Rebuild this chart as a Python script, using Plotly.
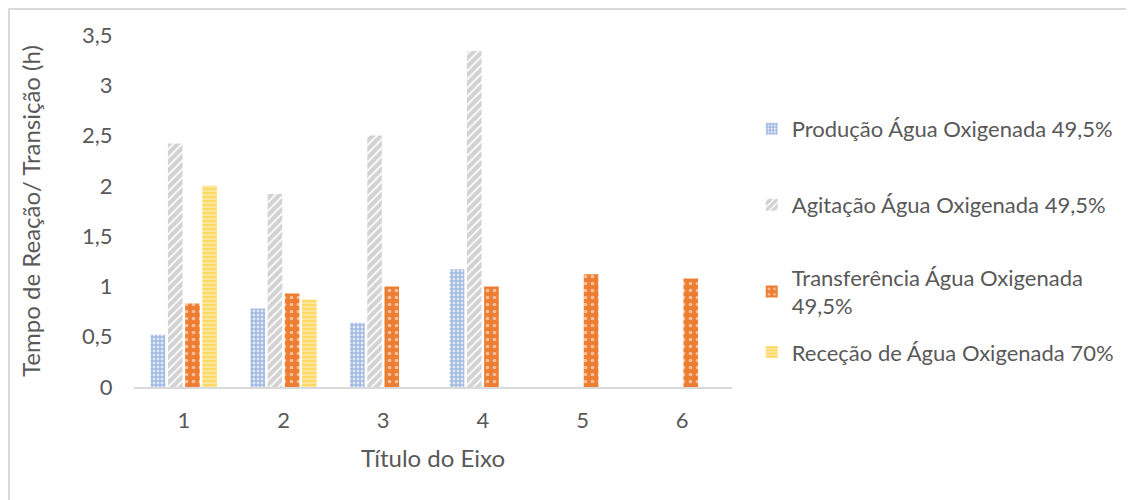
import plotly.graph_objects as go

# data
categorias = ["1", "2", "3", "4", "5", "6"]
producao = [0.52, 0.78, 0.64, 1.17, None, None]
agitacao = [2.42, 1.92, 2.50, 3.34, None, None]
transferencia = [0.83, 0.93, 1.00, 1.00, 1.12, 1.08]
rececao = [2.00, 0.87, None, None, None, None]

nomes = [
    "Produção Água Oxigenada 49,5%",
    "Agitação Água Oxigenada 49,5%",
    "Transferência Água Oxigenada<br>49,5%",
    "Receção de Água Oxigenada 70%",
]

TEXT = "#595959"
FONT = "Lato"

estilos = [
    dict(color="#4472C4", pattern=dict(shape=".", fgcolor="#4472C4", bgcolor="white",
                                       size=4, solidity=0.75)),
    dict(color="#A5A5A5", pattern=dict(shape="/", fgcolor="#A5A5A5", bgcolor="white",
                                       size=6, solidity=0.7)),
    dict(color="#ED7D31", pattern=dict(shape=".", fgcolor="white", bgcolor="#ED7D31",
                                       size=7, solidity=0.22)),
    dict(color="#FFC000", pattern=dict(shape="-", fgcolor="#FFC000", bgcolor="#FFF2CC",
                                       size=4, solidity=0.75)),
]

series = [producao, agitacao, transferencia, rececao]
legendas = ["legend", "legend2", "legend3", "legend4"]
legend_y = [0.733, 0.517, 0.270, 0.099]

fig = go.Figure()
for nome, valores, estilo, lg in zip(nomes, series, estilos, legendas):
    fig.add_trace(go.Bar(
        x=categorias, y=valores, name=nome, legend=lg,
        marker=dict(color=estilo["color"], pattern=estilo["pattern"], line=dict(width=0)),
    ))

leg_common = dict(x=1.033, xanchor="left", yanchor="middle",
                  font=dict(family=FONT, size=22, color=TEXT),
                  bgcolor="rgba(0,0,0,0)", itemwidth=30)
layout_legends = {}
for lg, y in zip(legendas, legend_y):
    layout_legends[lg] = dict(leg_common, y=y)

# page has an 8px body margin, so the figure is offset accordingly
fig.update_layout(
    width=1134, height=500,
    margin=dict(l=126, r=410, t=27, b=121),
    paper_bgcolor="white", plot_bgcolor="white",
    separators=",.",
    barmode="group", bargap=0.31, bargroupgap=0.15,
    font=dict(family=FONT, color=TEXT),
    showlegend=True,
    **layout_legends,
    xaxis=dict(
        range=[-0.5, 5.5], showline=True, linecolor="#D9D9D9", linewidth=2,
        showgrid=False, ticks="outside", ticklen=13, tickcolor="rgba(0,0,0,0)",
        tickfont=dict(size=22, color=TEXT),
        title=dict(text="Título do Eixo", font=dict(size=24, color=TEXT), standoff=18),
    ),
    yaxis=dict(
        range=[0, 3.5], dtick=0.5, showgrid=False, zeroline=False, showline=False,
        ticks="outside", ticklen=16, tickcolor="rgba(0,0,0,0)",
        tickfont=dict(size=22, color=TEXT),
        title=dict(text="Tempo de Reação/ Transição (h)", font=dict(size=24, color=TEXT),
                   standoff=34),
    ),
    shapes=[
        dict(type="line", xref="paper", yref="paper", x0=-0.21, x1=1.7, y0=1.074, y1=1.074,
             line=dict(color="#D9D9D9", width=2)),
        dict(type="line", xref="paper", yref="paper", x0=-0.209, x1=-0.209, y0=1.074, y1=-0.4,
             line=dict(color="#D9D9D9", width=2)),
    ],
)

fig.write_html("out.html")
